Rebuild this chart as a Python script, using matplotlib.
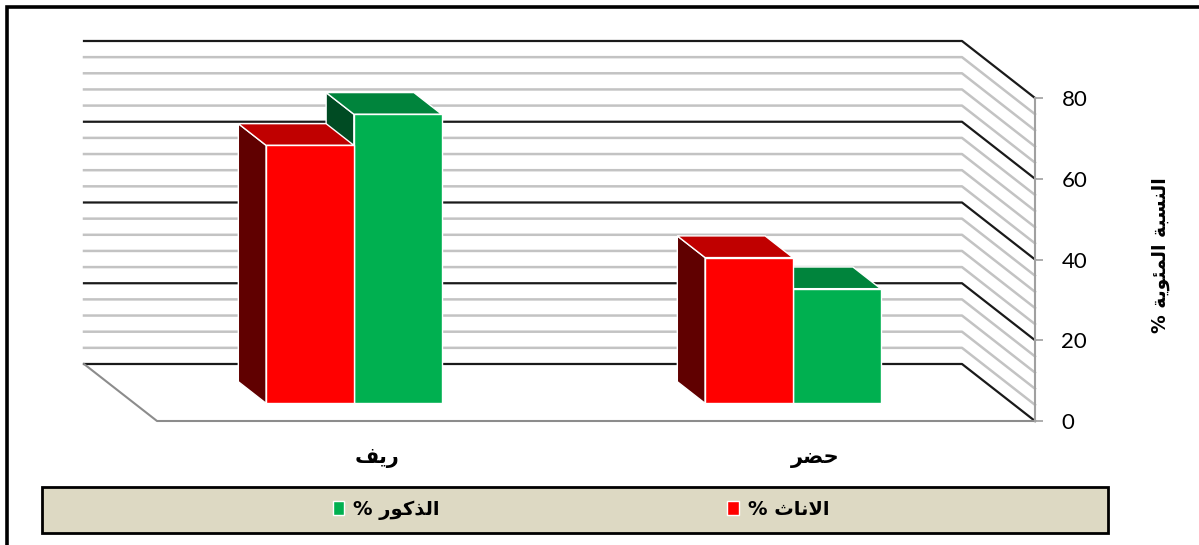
import numpy as np
import matplotlib.pyplot as plt
from matplotlib.patches import Polygon, Rectangle, Patch

# datos (ريف = rural, حضر = urbano); el texto arabe va en formas de presentacion,
# en orden visual, porque matplotlib no une las letras
categorias = ['\ufed2\ufef3\ufead', '\ufeae\ufec0\ufea3']        # ريف , حضر
pct_mujeres = [63.9, 36.1]                                       # الاناث %
pct_hombres = [71.6, 28.4]                                       # الذكور %
nombre_mujeres = '% \ufe99\ufe8e\ufee7\ufefb\ufe8d'              # الاناث %
nombre_hombres = '% \ufead\ufeee\ufedb\ufeac\ufedf\ufe8d'        # الذكور %
etiqueta_y = '% \ufe94\ufef3\ufeee\ufe8c\ufee4\ufedf\ufe8d \ufe94\ufe92\ufeb4\ufee8\ufedf\ufe8d'  # النسبة المئوية %
yticks = [0, 20, 40, 60, 80]

W, H = 1199, 545
DX, DY = -0.1663, 14.12      # desplazamiento de profundidad (perspectiva oblicua)
Z0, Z1 = 0.31, 0.69          # profundidad de las barras
ancho = 0.2

def P(x, y, z):
    return (x + DX * z, y + DY * z)

def caja(ax, x0, v, c_frente, c_techo, c_lado, z):
    frente = [P(x0, 0, Z0), P(x0 + ancho, 0, Z0), P(x0 + ancho, v, Z0), P(x0, v, Z0)]
    techo = [P(x0, v, Z0), P(x0 + ancho, v, Z0), P(x0 + ancho, v, Z1), P(x0, v, Z1)]
    lado = [P(x0, 0, Z0), P(x0, v, Z0), P(x0, v, Z1), P(x0, 0, Z1)]
    for pts, c in [(lado, c_lado), (techo, c_techo), (frente, c_frente)]:
        ax.add_patch(Polygon(pts, closed=True, facecolor=c, edgecolor='white',
                             linewidth=1, zorder=z, clip_on=False))

fig = plt.figure(figsize=(W / 100, H / 100), dpi=100)
ax = fig.add_axes([157 / W, (H - 421) / H, 878 / W, 323 / H])
ax.set_xlim(0, 2)
ax.set_ylim(0, 80)

# pared del fondo y pared derecha
for v in np.arange(0, 81, 4):
    mayor = v % 20 == 0
    pts = np.array([P(0, v, 1), P(2, v, 1), P(2, v, 0)])
    ax.plot(pts[:, 0], pts[:, 1], color='#1a1a1a' if mayor else '#c3c3c3',
            linewidth=1.6 if mayor else 1.8, zorder=1, clip_on=False)

# piso
piso = np.array([P(0, 0, 1), P(0, 0, 0), P(2, 0, 0)])
ax.plot(piso[:, 0], piso[:, 1], color='#8c8c8c', linewidth=1.5, zorder=1, clip_on=False)

# barras: verde primero, la roja queda delante
for i in range(len(categorias)):
    caja(ax, i + 0.5, pct_hombres[i], '#00b050', '#00843c', '#004b23', 3 + 2 * i)
    caja(ax, i + 0.5 - ancho, pct_mujeres[i], '#ff0000', '#c00000', '#600000', 4 + 2 * i)
    ax.text(i + 0.5, -9.2, categorias[i], ha='center', va='center', fontsize=15,
            fontweight='bold', family='DejaVu Sans', clip_on=False)

for s in ['left', 'top', 'bottom']:
    ax.spines[s].set_visible(False)
ax.spines['right'].set_color('#a0a0a0')
ax.spines['right'].set_linewidth(1.5)
ax.set_xticks([])
ax.yaxis.tick_right()
ax.set_yticks(yticks)
ax.tick_params(axis='y', direction='out', length=6, width=1.2, color='#a0a0a0',
               labelsize=16, pad=13)
for t in ax.get_yticklabels():
    t.set_family('Lato')

fig.text(1160 / W, (H - 255) / H, etiqueta_y, rotation=90, ha='center', va='center',
         fontsize=13.5, fontweight='bold', family='DejaVu Sans')

# leyenda
fig.patches.append(Rectangle((42 / W, (H - 533) / H), 1066 / W, 46 / H,
                             transform=fig.transFigure, facecolor='#ddd9c3',
                             edgecolor='black', linewidth=2, zorder=0))
handles = [Patch(facecolor='#00b050', edgecolor='white'),
           Patch(facecolor='#ff0000', edgecolor='white')]
leg = fig.legend(handles, [nombre_hombres, nombre_mujeres], loc='center', ncol=2,
                 bbox_to_anchor=(581 / W, (H - 510) / H), frameon=False,
                 handlelength=0.6, handleheight=0.75, handletextpad=0.45,
                 columnspacing=14.8, prop={'family': 'DejaVu Sans', 'weight': 'bold', 'size': 14})

# marco exterior (cortado a la derecha y abajo)
fig.patches.append(Rectangle((7 / W, -0.1), 1.2, 1.1 - 6.5 / H, transform=fig.transFigure,
                             fill=False, edgecolor='black', linewidth=2.6))

fig.savefig('out.png', dpi=100)
